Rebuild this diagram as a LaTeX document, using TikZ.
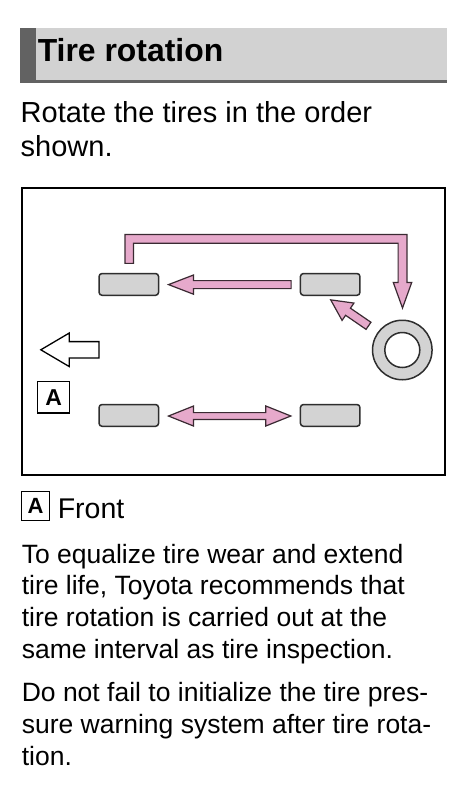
\documentclass[tikz,border=0pt]{standalone}
\usepackage{fontspec}
\setmainfont{Liberation Sans}
\usetikzlibrary{calc}
\definecolor{barlight}{HTML}{D2D2D2}
\definecolor{bardark}{HTML}{626262}
\definecolor{tirefill}{HTML}{D3D3D3}
\definecolor{inkline}{HTML}{2E2E2E}
\definecolor{arrowpink}{HTML}{E6A9CB}
\definecolor{arrowline}{HTML}{3A2A32}
% #1 style, #2 tail, #3 tip, #4 shaft half width, #5 head half width, #6 head length
\newcommand\fatarrow[6][]{%
  \coordinate (faH) at ($(#3)!#6!(#2)$);
  \filldraw[#1] ($(#2)!#4!90:(#3)$) -- ($(faH)!#4!90:(#3)$) -- ($(faH)!#5!90:(#3)$) -- (#3)
    -- ($(faH)!#5!-90:(#3)$) -- ($(faH)!#4!-90:(#3)$) -- ($(#2)!#4!-90:(#3)$) -- cycle;}
\begin{document}
\begin{tikzpicture}[x=1pt,y=-1pt,
  txt/.style={inner sep=0pt, anchor=base west, font=\fontsize{26.5}{32}\selectfont},
  bigtxt/.style={inner sep=0pt, anchor=base west, font=\fontsize{29}{34}\selectfont},
  tire/.style={rectangle, rounded corners=3pt, fill=tirefill, draw=inkline, line width=1.5pt,
    minimum width=59.5pt, minimum height=21.8pt, inner sep=0pt},
  pinkarrow/.style={fill=arrowpink, draw=arrowline, line width=1.2pt, line join=miter},
  frontarrow/.style={fill=white, draw=black, line width=1.3pt, line join=miter},
  labelbox/.style={draw=black, line width=1.1pt, inner sep=0pt, font=\bfseries\fontsize{23}{23}\selectfont}]
\useasboundingbox (0,0) rectangle (462,788);
\fill[white] (0,0) rectangle (462,788);
% title bar
\fill[barlight] (20,28.3) rectangle (447,81);
\fill[bardark] (20,28.3) rectangle (36,83.3);
\fill[bardark] (20,80.2) rectangle (447,83.3);
\node[inner sep=0pt, anchor=base west, font=\bfseries\fontsize{31.9}{34}\selectfont] (title) at (37.6,61) {Tire rotation};
% intro text
\node[bigtxt] (i1) at (20.5,122.3) {Rotate the tires in the order};
\node[bigtxt] (i2) at (20.5,156.7) {shown.};
% diagram frame
\draw[line width=1.9pt] (22,188) rectangle (445,475);
% tires
\node[tire] (tl) at (128.8,284.4) {};
\node[tire] (tr) at (330.2,284.4) {};
\node[tire] (bl) at (128.8,415.4) {};
\node[tire] (br) at (330.2,415.4) {};
\node[circle, fill=tirefill, draw=inkline, line width=1.5pt, minimum size=59.5pt, inner sep=0pt] (spare) at (402.3,350) {};
\node[circle, fill=white, draw=inkline, line width=1.5pt, minimum size=35pt, inner sep=0pt] (hub) at (spare.center) {};
% arrow: front right -> front left
\coordinate (a1t) at ($(tr.west)+(-8.6,0.2)$);
\coordinate (a1h) at ($(tl.east)+(9.2,0.2)$);
\fatarrow[pinkarrow]{a1t}{a1h}{4pt}{9.6pt}{25pt}
% arrow: spare -> front right
\coordinate (a2t) at ($(spare.center)+(-33.8,-24.2)$);
\coordinate (a2h) at ($(tr.south)+(0.5,3.8)$);
\fatarrow[pinkarrow]{a2t}{a2h}{4.3pt}{10.5pt}{21pt}
% L connector: front left -> spare
\coordinate (ls) at ($(tl.north)+(0.4,-9.4)$);
\coordinate (lt) at ($(spare.north)+(0.2,-11.5)$);
\coordinate (lc) at ($(ls)+(0,-24.5)$);
\filldraw[pinkarrow] ($(ls)+(-4.2,0)$) -- ($(ls |- lc)+(-4.2,-4.4)$) -- ($(lt |- lc)+(4.4,-4.4)$)
  -- ($(lt)+(4.4,-25.5)$) -- ($(lt)+(9.2,-25.5)$) -- (lt) -- ($(lt)+(-9.2,-25.5)$)
  -- ($(lt)+(-4.4,-25.5)$) -- ($(lt |- lc)+(-4.4,4.4)$) -- ($(ls |- lc)+(4.2,4.4)$)
  -- ($(ls)+(4.2,0)$) -- cycle;
% double arrow: rear left <-> rear right
\coordinate (dL) at ($(bl.east)+(9.2,0.6)$);
\coordinate (dR) at ($(br.west)+(-8.9,0.6)$);
\coordinate (hL) at ($(dL)!25pt!(dR)$);
\coordinate (hR) at ($(dR)!25pt!(dL)$);
\filldraw[pinkarrow] (dL) -- ($(hL)!10pt!90:(dR)$) -- ($(hL)!3.4pt!90:(dR)$) -- ($(hR)!3.4pt!-90:(dL)$)
  -- ($(hR)!10pt!-90:(dL)$) -- (dR) -- ($(hR)!10pt!90:(dL)$) -- ($(hR)!3.4pt!90:(dL)$)
  -- ($(hL)!3.4pt!-90:(dR)$) -- ($(hL)!10pt!-90:(dR)$) -- cycle;
% front direction arrow
\coordinate (ft) at (99,349.8);
\coordinate (fh) at (40.8,349.8);
\fatarrow[frontarrow]{ft}{fh}{8.2pt}{16.8pt}{28.5pt}
\node[labelbox, minimum width=32pt, minimum height=31.6pt] (boxA) at (53.7,397.2) {A};
% legend
\node[labelbox, line width=1pt, minimum size=28.5pt, font=\bfseries\fontsize{22}{22}\selectfont] (legA) at (35.5,506.2) {A};
\node[inner sep=0pt, anchor=base west, font=\fontsize{28.5}{32}\selectfont] (front) at (57.6,518.3) {Front};
% paragraphs
\node[txt] (p1) at (21.6,563.3) {To equalize tire wear and extend};
\node[txt] (p2) at (21.6,594.5) {tire life, Toyota recommends that};
\node[txt] (p3) at (21.6,626.7) {tire rotation is carried out at the};
\node[txt] (p4) at (21.6,658.3) {same interval as tire inspection.};
\node[txt] (q1) at (21.6,701.7) {Do not fail to initialize the tire pres-};
\node[txt] (q2) at (21.6,733.3) {sure warning system after tire rota-};
\node[txt] (q3) at (21.6,765) {tion.};
\end{tikzpicture}
\end{document}
